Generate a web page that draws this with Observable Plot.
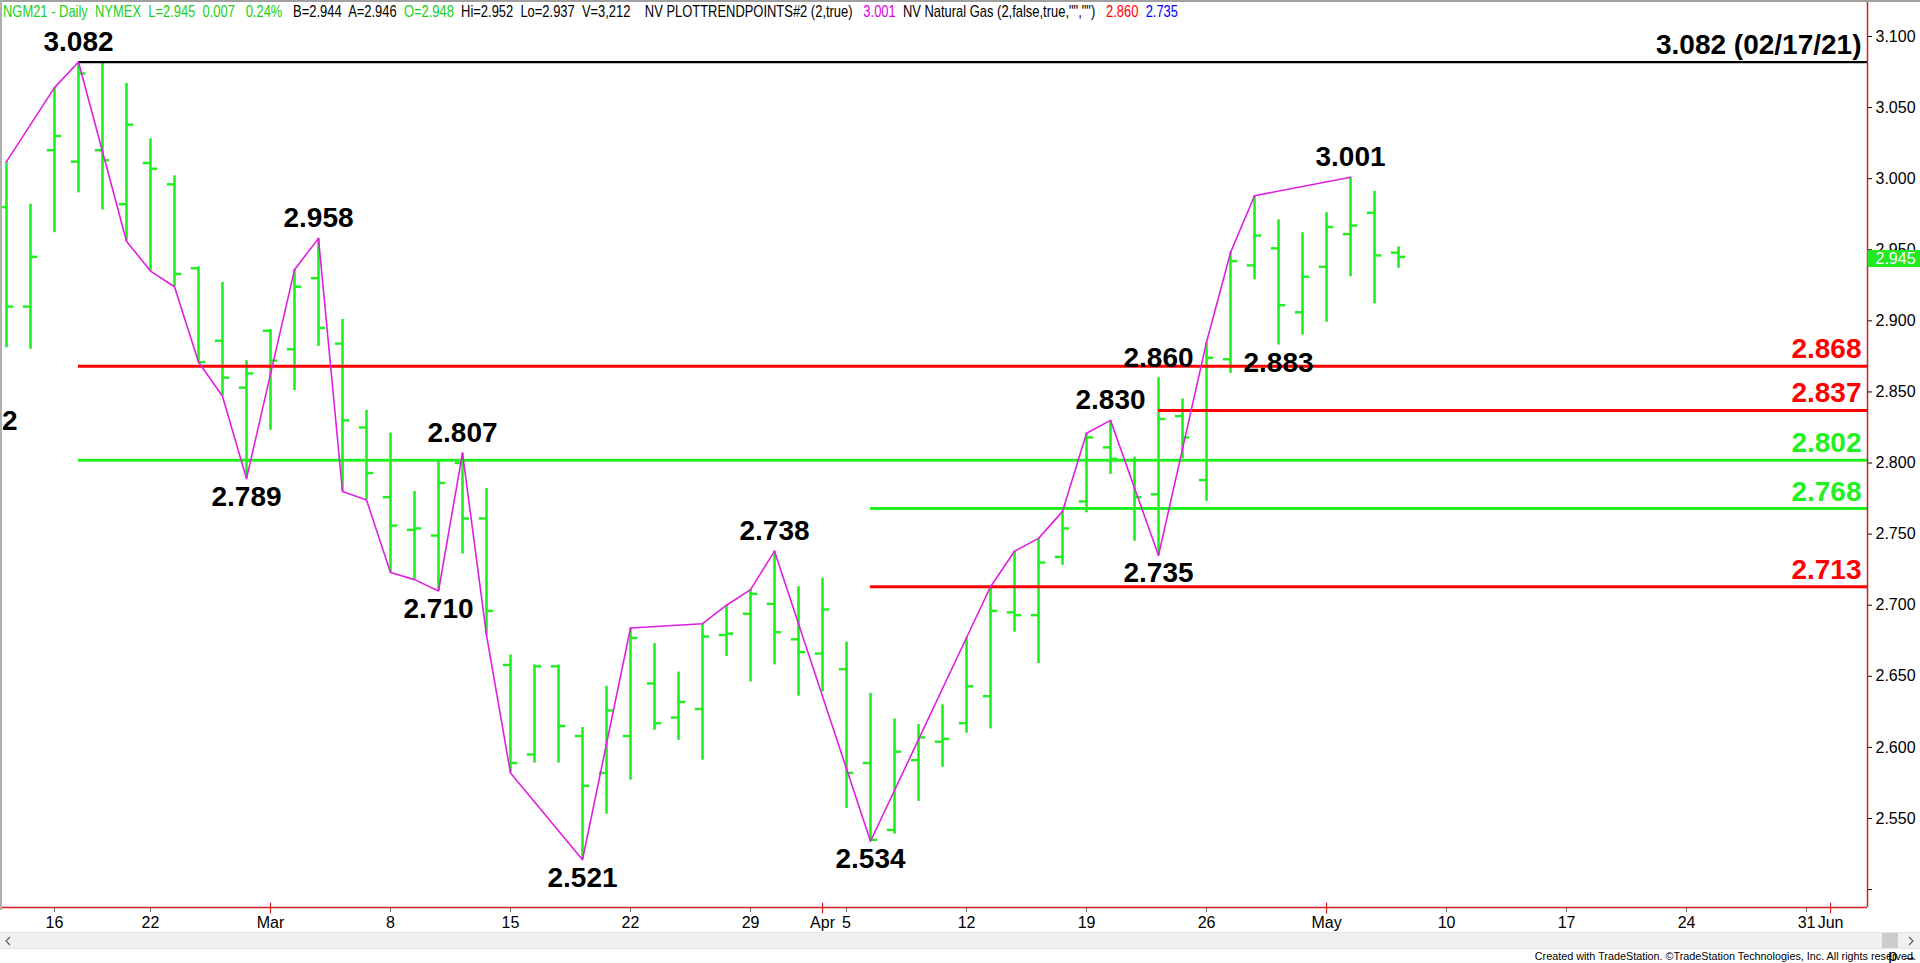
<!DOCTYPE html>
<html>
<head>
<meta charset="utf-8">
<script src="https://cdn.jsdelivr.net/npm/d3@7"></script>
<script src="https://cdn.jsdelivr.net/npm/@observablehq/plot@0.6"></script>
<style>
html, body { margin: 0; padding: 0; background: #fff; overflow: hidden; }
#wrap { position: relative; width: 1920px; height: 963px; background: #fff; }
#chart { position: absolute; left: 0; top: 0; }
#title { position: absolute; left: 3px; top: 2px; white-space: pre; font-family: "Liberation Sans", Arial, sans-serif; font-size: 17px; transform-origin: 0 0; }
#footer { position: absolute; right: 4px; top: 950px; white-space: pre; font-family: "Liberation Sans", Arial, sans-serif; font-size: 10.8px; line-height: 12px; color: #000; }
#scroll { position: absolute; left: 0; top: 932px; width: 1920px; height: 15px; background: #f0f0f0; border-top: 1px solid #e4e4e4; border-bottom: 1px solid #e4e4e4; }
#scroll .thumb { position: absolute; right: 22px; top: 0px; width: 16px; height: 15px; background: #cdcdcd; }
#scroll svg { position: absolute; top: 3px; }
#topline { position: absolute; left: 0; top: 0; width: 1920px; height: 2px; background: #a0a0a0; }
#leftline { position: absolute; left: 0; top: 0; width: 2px; height: 910px; background: #b0b0b0; }
</style>
</head>
<body>
<div id="wrap">
  <div id="chart"></div>
  <div id="topline"></div>
  <div id="leftline"></div>
  <div id="title"><span style="color:#18d018">NGM21 - Daily  NYMEX  L=2.945  0.007   0.24%</span><span>   B=2.944  A=2.946  </span><span style="color:#18d018">O=2.948</span><span>  Hi=2.952  Lo=2.937  V=3,212    NV PLOTTRENDPOINTS#2 (2,true)   </span><span style="color:#e000e0">3.001</span><span>  NV Natural Gas (2,false,true,"","")   </span><span style="color:#ff0000">2.860</span><span>  </span><span style="color:#0000ff">2.735</span></div>
  <div id="scroll">
    <svg width="8" height="10" style="left:4px"><path d="M6,1 L2,5 L6,9" fill="none" stroke="#606060" stroke-width="1.2"/></svg>
    <div class="thumb"></div>
    <svg width="8" height="10" style="right:5px"><path d="M2,1 L6,5 L2,9" fill="none" stroke="#606060" stroke-width="1.2"/></svg>
  </div>
  <div id="footer">Created with TradeStation. ©TradeStation Technologies, Inc. All rights reserved.</div>
</div>
<script>
// ---------------- DATA ----------------
const barDates = ["2021-02-11","2021-02-12","2021-02-16","2021-02-17","2021-02-18","2021-02-19",
  "2021-02-22","2021-02-23","2021-02-24","2021-02-25","2021-02-26",
  "2021-03-01","2021-03-02","2021-03-03","2021-03-04","2021-03-05",
  "2021-03-08","2021-03-09","2021-03-10","2021-03-11","2021-03-12",
  "2021-03-15","2021-03-16","2021-03-17","2021-03-18","2021-03-19",
  "2021-03-22","2021-03-23","2021-03-24","2021-03-25","2021-03-26",
  "2021-03-29","2021-03-30","2021-03-31","2021-04-01",
  "2021-04-05","2021-04-06","2021-04-07","2021-04-08","2021-04-09",
  "2021-04-12","2021-04-13","2021-04-14","2021-04-15","2021-04-16",
  "2021-04-19","2021-04-20","2021-04-21","2021-04-22","2021-04-23",
  "2021-04-26","2021-04-27","2021-04-28","2021-04-29","2021-04-30",
  "2021-05-03","2021-05-04","2021-05-05","2021-05-06"];
const opens  = [2.980,2.910,3.020,3.012,3.020,2.982, 3.011,2.996,2.937,2.886,2.853, 2.893,2.880,2.930,2.884,2.825,
  2.776,2.753,2.749,2.800,2.761, 2.658,2.595,2.657,2.608,2.582, 2.608,2.645,2.621,2.627,2.679,
  2.694,2.701,2.676,2.666, 2.655,2.589,2.542,2.591,2.604, 2.617,2.636,2.695,2.693,2.734,
  2.773,2.811,2.802,2.778,2.833, 2.788,2.873,2.939,2.951,2.906, 2.938,2.961,2.976,2.948];
const highs  = [3.012,2.982,3.064,3.082,3.081,3.067, 3.028,3.002,2.938,2.927,2.872, 2.894,2.936,2.958,2.901,2.837,
  2.821,2.780,2.802,2.807,2.782, 2.665,2.658,2.658,2.614,2.643, 2.684,2.673,2.653,2.687,2.700,
  2.711,2.738,2.713,2.719, 2.674,2.638,2.620,2.616,2.630, 2.677,2.713,2.738,2.747,2.766,
  2.821,2.830,2.804,2.860,2.845, 2.885,2.948,2.988,2.971,2.962, 2.976,3.001,2.991,2.952];
const lows   = [2.881,2.880,2.962,2.990,2.978,2.956, 2.935,2.924,2.871,2.847,2.789, 2.823,2.851,2.882,2.780,2.774,
  2.723,2.718,2.710,2.736,2.679, 2.582,2.589,2.589,2.521,2.553, 2.577,2.612,2.605,2.591,2.664,
  2.646,2.658,2.636,2.639, 2.557,2.534,2.539,2.562,2.586, 2.610,2.613,2.681,2.659,2.728,
  2.765,2.792,2.745,2.735,2.803, 2.773,2.863,2.929,2.883,2.890, 2.899,2.931,2.912,2.937];
const closes = [2.910,2.945,3.030,3.074,3.013,3.038, 3.007,2.933,2.871,2.860,2.863, 2.872,2.924,2.895,2.830,2.793,
  2.756,2.754,2.786,2.761,2.696, 2.589,2.657,2.615,2.573,2.626, 2.677,2.617,2.632,2.678,2.680,
  2.708,2.681,2.667,2.697, 2.582,2.535,2.597,2.607,2.606, 2.643,2.696,2.693,2.730,2.754,
  2.818,2.803,2.776,2.831,2.818, 2.874,2.942,2.960,2.911,2.931, 2.966,2.967,2.946,2.945];

// calendar of chart slots (one day before first bar + future empty slots)
const leadDates = ["2021-02-10"];
const futureDates = ["2021-05-07","2021-05-10","2021-05-11","2021-05-12","2021-05-13","2021-05-14",
  "2021-05-17","2021-05-18","2021-05-19","2021-05-20","2021-05-21",
  "2021-05-24","2021-05-25","2021-05-26","2021-05-27","2021-05-28",
  "2021-05-31","2021-06-01","2021-06-02"];

// swing (trend point) line
const zigDates  = ["2021-02-11","2021-02-16","2021-02-17","2021-02-19","2021-02-22","2021-02-23","2021-02-24","2021-02-25","2021-02-26",
  "2021-03-02","2021-03-03","2021-03-04","2021-03-05","2021-03-08","2021-03-09","2021-03-10","2021-03-11","2021-03-12","2021-03-15",
  "2021-03-18","2021-03-22","2021-03-25","2021-03-26","2021-03-29","2021-03-30","2021-04-06","2021-04-13","2021-04-14","2021-04-15",
  "2021-04-16","2021-04-19","2021-04-20","2021-04-22","2021-04-26","2021-04-27","2021-04-28","2021-05-04"];
const zigValues = [3.012,3.064,3.082,2.956,2.935,2.924,2.871,2.847,2.789,
  2.936,2.958,2.780,2.774,2.723,2.718,2.710,2.807,2.679,2.582,
  2.521,2.684,2.687,2.700,2.711,2.738,2.534,2.713,2.738,2.747,
  2.766,2.821,2.830,2.735,2.885,2.948,2.988,3.001];

// pivot labels
const pivotDates  = ["2021-02-17","2021-03-03","2021-03-11","2021-03-30","2021-04-20","2021-04-22","2021-05-04",
  "2021-02-26","2021-03-10","2021-03-18","2021-04-06","2021-04-22","2021-02-10","2021-04-29"];
const pivotValues = [3.082,2.958,2.807,2.738,2.830,2.860,3.001, 2.789,2.710,2.521,2.534,2.735,2.842, 2.883];
const pivotKinds  = ["high","high","high","high","high","high","high", "low","low","low","low","low","low", "low"];

// horizontal levels
const levelValues = [3.082, 2.868, 2.837, 2.802, 2.768, 2.713];
const levelStart  = ["2021-02-17","2021-02-17","2021-04-22","2021-02-17","2021-04-06","2021-04-06"];
const levelNotes  = ["(02/17/21)", "", "", "", "", ""];
const levelColors = ["#000000", "#ff0000", "#ff0000", "#22f022", "#22f022", "#ff0000"];

// axis ticks
const tickDates  = ["2021-02-16","2021-02-22","2021-03-01","2021-03-08","2021-03-15","2021-03-22","2021-03-29","2021-04-01",
  "2021-04-05","2021-04-12","2021-04-19","2021-04-26","2021-05-03","2021-05-10","2021-05-17","2021-05-24","2021-05-31","2021-06-01"];
const tickLabels = ["16","22","Mar","8","15","22","29","Apr","5","12","19","26","May","10","17","24","31","Jun"];
const monthTickDates = ["2021-03-01","2021-04-01","2021-05-03","2021-06-01"];
const yTicks = [2.50,2.55,2.60,2.65,2.70,2.75,2.80,2.85,2.90,2.95,3.00,3.05,3.10];

// ---------------- BUILD ----------------
const calendar = leadDates.concat(barDates, futureDates);
const pos = new Map(calendar.map((d, i) => [d, i]));
const bars = barDates.map((d, i) => ({p: pos.get(d), open: opens[i], high: highs[i], low: lows[i], close: closes[i]}));
const zig = zigDates.map((d, i) => ({p: pos.get(d), v: zigValues[i]}));
const pivots = pivotDates.map((d, i) => ({p: pos.get(d), v: pivotValues[i], kind: pivotKinds[i], text: pivotValues[i].toFixed(3)}));
const levels = levelValues.map((v, i) => ({v, p: pos.get(levelStart[i]), color: levelColors[i],
  text: v.toFixed(3) + (levelNotes[i] ? " " + levelNotes[i] : "")}));
const tickPos = tickDates.map(d => pos.get(d));
const tickText = new Map(tickDates.map((d, i) => [pos.get(d), tickLabels[i]]));
const monthPos = monthTickDates.map(d => pos.get(d));
const last = bars[bars.length - 1];

const xMin = 0.75, xMax = 78.54;
const yMin = 2.4874, yMax = 3.1253;
const GREEN = "#1ef01e";
const FONT = "Liberation Sans, Arial, sans-serif";

const chart = Plot.plot({
  width: 1920, height: 963,
  marginTop: 0, marginLeft: 0, marginRight: 53, marginBottom: 56,
  x: {type: "linear", domain: [xMin, xMax], axis: null},
  y: {type: "linear", domain: [yMin, yMax], axis: null},
  color: {type: "identity"},
  style: {background: "#ffffff", fontFamily: FONT, overflow: "visible"},
  marks: [
    // price bars
    Plot.ruleX(bars, {x: "p", y1: "low", y2: "high", stroke: GREEN, strokeWidth: 2.6}),
    Plot.ruleY(bars, {x1: d => d.p - 0.3, x2: "p", y: "open", stroke: GREEN, strokeWidth: 2.4}),
    Plot.ruleY(bars, {x1: "p", x2: d => d.p + 0.3, y: "close", stroke: GREEN, strokeWidth: 2.4}),
    // levels
    Plot.ruleY(levels.filter(d => d.color === "#000000"), {y: "v", x1: "p", x2: () => xMax, stroke: "color", strokeWidth: 2.2}),
    Plot.ruleY(levels.filter(d => d.color !== "#000000"), {y: "v", x1: "p", x2: () => xMax, stroke: "color", strokeWidth: 3}),
    // trend points line
    Plot.line(zig, {x: "p", y: "v", stroke: "#e020e0", strokeWidth: 1.6}),
    // pivot labels
    Plot.text(pivots.filter(d => d.kind === "high"), {x: "p", y: "v", text: "text", lineAnchor: "bottom", dy: -11,
      fontSize: 28, fontWeight: "bold", fill: "#000", fontFamily: FONT}),
    Plot.text(pivots.filter(d => d.kind === "low"), {x: "p", y: "v", text: "text", lineAnchor: "top", dy: 7,
      fontSize: 28, fontWeight: "bold", fill: "#000", fontFamily: FONT}),
    // level labels at right
    Plot.text(levels, {y: "v", text: "text", frameAnchor: "right", textAnchor: "end", lineAnchor: "bottom", dx: -6, dy: -8,
      fill: "color", fontSize: 28, fontWeight: "bold", fontFamily: FONT}),
    // axes
    Plot.axisY({anchor: "right", ticks: yTicks, tickFormat: d => Math.abs(d - 2.5) < 1e-9 ? "" : d.toFixed(3),
      tickSize: 4, tickPadding: 4, fontSize: 16, fill: "#000", stroke: "#000", fontFamily: FONT}),
    Plot.axisX({ticks: tickPos, tickFormat: d => tickText.get(d), tickSize: 5, tickPadding: 4,
      fontSize: 16, fill: "#000", stroke: "#666", fontFamily: FONT}),
    Plot.ruleX(monthPos, {x: d => d, y1: () => yMin + 0.003, y2: () => yMin - 0.0045, stroke: "#d02020", strokeWidth: 1.2}),
    Plot.ruleY([yMin], {x1: () => xMin - 0.1, x2: () => xMax, stroke: "#d02020", strokeWidth: 1.5}),
    Plot.ruleX([xMax], {y1: () => yMin, y2: () => yMax, stroke: "#d02020", strokeWidth: 1.5}),
    // last price marker
    Plot.rect([last], {x1: () => xMax + 0.02, x2: () => xMax + 2.3, y1: d => d.close + 0.0045, y2: d => d.close - 0.0075, fill: "#22e822"}),
    Plot.text([last], {x: () => xMax, y: d => d.close - 0.0015, text: d => d.close.toFixed(3), textAnchor: "start", dx: 8,
      fill: "#ffffff", fontSize: 16, fontFamily: FONT})
  ]
});
document.getElementById("chart").appendChild(chart);

function fit(id, target) {
  const el = document.getElementById(id);
  const w = el.getBoundingClientRect().width;
  if (w > 0) el.style.transform = `scaleX(${target / w})`;
}
fit("title", 1175);
</script>
</body>
</html>
